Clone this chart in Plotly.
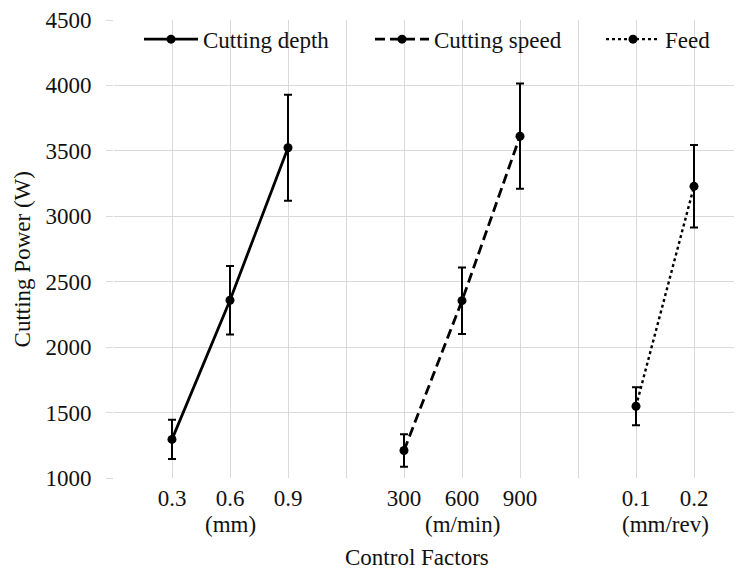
import plotly.graph_objects as go

# Data
depth_levels = ["0.3", "0.6", "0.9"]
depth_power = [1295, 2358, 3524]
depth_err = [150, 262, 405]

speed_levels = ["300", "600", "900"]
speed_power = [1210, 2355, 3612]
speed_err = [124, 254, 402]

feed_levels = ["0.1", "0.2"]
feed_power = [1548, 3229]
feed_err = [145, 315]

unit_labels = ["(mm)", "(m/min)", "(mm/rev)"]
series_names = ["Cutting depth", "Cutting speed", "Feed"]

FONT = "Liberation Serif"
FS = 23
TXT = "#111111"

W, H = 734, 564          # page body has an 8px margin
L, R, T, B = 106, 0, 7, 94
PW = W - L - R
PH = H - T - B
ITEMW = 54

# x positions: each group separated by one blank slot
groups = [depth_levels, speed_levels, feed_levels]
positions = []
start = 1
for g in groups:
    positions.append([start + i for i in range(len(g))])
    start += len(g) + 1
n_slots = start + 1

tickvals = list(range(n_slots))
ticktext = [""] * n_slots
for g, p in zip(groups, positions):
    for lab, x in zip(g, p):
        ticktext[x] = lab

fig = go.Figure()
dashes = ["solid", "10px,5px", "3px,3px"]
widths = [2.8, 2.8, 2.4]
powers = [depth_power, speed_power, feed_power]
errs = [depth_err, speed_err, feed_err]
legend_ids = ["legend", "legend2", "legend3"]
for name, p, y, e, d, lw, lg in zip(series_names, positions, powers, errs, dashes, widths, legend_ids):
    fig.add_trace(go.Scatter(
        x=p, y=y, name=name, mode="lines+markers", legend=lg,
        line=dict(color="black", width=lw, dash=d),
        marker=dict(color="black", size=9),
        error_y=dict(type="data", array=e, visible=True, color="black",
                     thickness=2, width=4),
    ))

# unit annotations
unit_x = [positions[0][1], positions[1][1], sum(positions[2]) / len(positions[2])]
for u, x in zip(unit_labels, unit_x):
    fig.add_annotation(x=x, xref="x", y=0, yref="paper", yanchor="middle",
                       yshift=-46, text=u, showarrow=False,
                       font=dict(family=FONT, size=FS, color=TXT))

fig.add_annotation(x=(417 - 8 - L) / PW, xref="paper", y=0, yref="paper",
                   text="Control Factors", showarrow=False, yanchor="middle",
                   yshift=-79, font=dict(family=FONT, size=FS, color=TXT))

fig.add_annotation(x=0, xref="paper", xshift=-92, y=(H - B - (257 - 8)) / PH, yref="paper",
                   text="Cutting Power (W)", textangle=-90, showarrow=False,
                   xanchor="center", yanchor="middle",
                   font=dict(family=FONT, size=FS, color=TXT))

def leg(text_abs_x):
    return dict(orientation="h", x=(text_abs_x - (ITEMW + 10) - 8 - L) / PW, y=1.005,
                xanchor="left", yanchor="top", bgcolor="rgba(0,0,0,0)",
                itemwidth=ITEMW,
                font=dict(family=FONT, size=FS, color=TXT))

xmax = PW / 58.0
fig.update_layout(
    width=W, height=H,
    margin=dict(l=L, r=R, t=T, b=B),
    paper_bgcolor="white", plot_bgcolor="white",
    font=dict(family=FONT, size=FS, color=TXT),
    showlegend=True,
    legend=leg(203), legend2=leg(434), legend3=leg(665),
    xaxis=dict(range=[0, xmax], tickmode="array", tickvals=tickvals, ticktext=ticktext,
               showgrid=True, gridcolor="#d9d9d9", gridwidth=1, zeroline=False,
               showline=False, ticks="", ticklabelstandoff=4,
               tickfont=dict(family=FONT, size=FS, color=TXT)),
    yaxis=dict(range=[1000, 4500], dtick=500, tick0=1000,
               showgrid=True, gridcolor="#d9d9d9", gridwidth=1, zeroline=False,
               showline=False, ticks="outside", ticklen=7, tickcolor="#d9d9d9",
               ticklabelstandoff=10, ticklabeloverflow="allow",
               tickfont=dict(family=FONT, size=FS, color=TXT)),
)

fig.write_html("out.html")
